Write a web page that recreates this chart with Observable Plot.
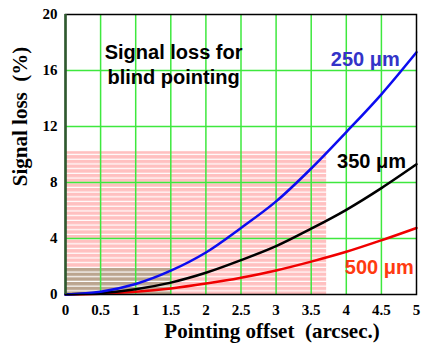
<!DOCTYPE html>
<html><head><meta charset="utf-8">
<script src="https://cdn.jsdelivr.net/npm/d3@7"></script>
<script src="https://cdn.jsdelivr.net/npm/@observablehq/plot@0.6"></script>
<style>body{margin:0;background:#fff;}</style>
</head><body><div id="chart"></div>
<script>
// Data
const offsets = [0, 0.5, 1, 1.5, 2, 2.5, 3, 3.5, 4, 4.5, 5];
const loss250 = [0, 0.2, 0.75, 1.7, 3.0, 4.75, 6.65, 9.0, 11.6, 14.3, 17.3];
const loss350 = [0, 0.1, 0.38, 0.85, 1.55, 2.45, 3.45, 4.7, 6.05, 7.6, 9.3];
const loss500 = [0, 0.05, 0.19, 0.43, 0.78, 1.2, 1.72, 2.35, 3.05, 3.87, 4.75];
const seriesNames = ["250 \u03bcm", "350 \u03bcm", "500 \u03bcm"];
const xTicks = [0, 0.5, 1, 1.5, 2, 2.5, 3, 3.5, 4, 4.5, 5];
const yTicks = [0, 4, 8, 12, 16, 20];
const xGrid = [0.5, 1, 1.5, 2, 2.5, 3, 3.5, 4, 4.5];
const yGrid = [4, 8, 12, 16];
const zoneX2 = [3.72, 1.5];
const zoneY2 = [10.2, 1.86];
const titleText = "Signal loss for\nblind pointing";
const xLabel = "Pointing offset\u00a0 (arcsec.)";
const yLabel = "Signal loss\u00a0 (%)";

const rows = (ys, name) => offsets.map((x, i) => ({x, y: ys[i], name}));
const zones = [
  {x1: 0, x2: zoneX2[0], y1: 0, y2: zoneY2[0], fill: "url(#stripePink)"},
  {x1: 0, x2: zoneX2[1], y1: 0, y2: zoneY2[1], fill: "url(#stripeBrown)"}
];
const sans = "Liberation Sans, Arial, sans-serif";

const chart = Plot.plot({
  width: 426, height: 344,
  marginLeft: 65, marginRight: 10, marginTop: 14, marginBottom: 50,
  style: {fontFamily: "Liberation Serif, Times New Roman, serif", fontWeight: "bold", fontSize: "15px", background: "white"},
  x: {domain: [0, 5]},
  y: {domain: [0, 20]},
  marks: [
    Plot.rect(zones, {x1: "x1", x2: "x2", y1: "y1", y2: "y2", fill: d => d.fill}),
    Plot.ruleX(xGrid, {stroke: "#3ee83e", strokeWidth: 1.5}),
    Plot.ruleY(yGrid, {stroke: "#3ee83e", strokeWidth: 1.5}),
    Plot.line(rows(loss500, seriesNames[2]), {x: "x", y: "y", stroke: "#f00000", strokeWidth: 2.5, curve: "catmull-rom"}),
    Plot.line(rows(loss350, seriesNames[1]), {x: "x", y: "y", stroke: "#000000", strokeWidth: 2.5, curve: "catmull-rom"}),
    Plot.line(rows(loss250, seriesNames[0]), {x: "x", y: "y", stroke: "#0c0cf0", strokeWidth: 2.5, curve: "catmull-rom"}),
    Plot.frame({stroke: "black", strokeWidth: 1.5}),
    Plot.ruleX([0], {stroke: "#2e5a2e", strokeWidth: 2.5}),
    Plot.axisX(xTicks, {tickSize: 0, tickPadding: 10, tickFormat: d => String(d), label: null, fontSize: 15, fontWeight: "bold"}),
    Plot.axisY(yTicks, {tickSize: 0, tickPadding: 8, label: null, fontSize: 15, fontWeight: "bold"}),
    Plot.text([titleText], {x: 1.54, y: 16.5, text: d => d, fontFamily: sans, fontWeight: "bold", fontSize: 20, lineHeight: 1.25, textAnchor: "middle", lineAnchor: "middle", fill: "black"}),
    Plot.text([seriesNames[0]], {x: 4.27, y: 16.8, text: d => d, fontFamily: sans, fontWeight: "bold", fontSize: 20, fill: "#3333c8"}),
    Plot.text([seriesNames[1]], {x: 4.36, y: 9.48, text: d => d, fontFamily: sans, fontWeight: "bold", fontSize: 20, fill: "black"}),
    Plot.text([seriesNames[2]], {x: 4.47, y: 1.89, text: d => d, fontFamily: sans, fontWeight: "bold", fontSize: 20, fill: "#ff3a10"}),
    Plot.text([xLabel], {frameAnchor: "bottom", text: d => d, textAnchor: "middle", lineAnchor: "middle", dx: 31, dy: 37, fontSize: 21, fontWeight: "bold"}),
    Plot.text([yLabel], {frameAnchor: "left", text: d => d, textAnchor: "middle", lineAnchor: "middle", rotate: -90, dx: -45, dy: -38, fontSize: 21, fontWeight: "bold"})
  ]
});

const svg = chart.tagName.toLowerCase() === "svg" ? chart : chart.querySelector("svg");
const ns = "http://www.w3.org/2000/svg";
const defs = document.createElementNS(ns, "defs");
defs.innerHTML = `
<pattern id="stripePink" patternUnits="userSpaceOnUse" width="10" height="4.7">
  <rect width="10" height="4.7" fill="#ffc0c0"/><rect y="3.5" width="10" height="1.2" fill="#ffffff"/>
</pattern>
<pattern id="stripeBrown" patternUnits="userSpaceOnUse" width="10" height="4.7">
  <rect width="10" height="4.7" fill="#bba58f"/><rect y="3.5" width="10" height="1.2" fill="#ffffff"/>
</pattern>`;
svg.insertBefore(defs, svg.firstChild);
document.getElementById("chart").appendChild(chart);
</script>
</body></html>
